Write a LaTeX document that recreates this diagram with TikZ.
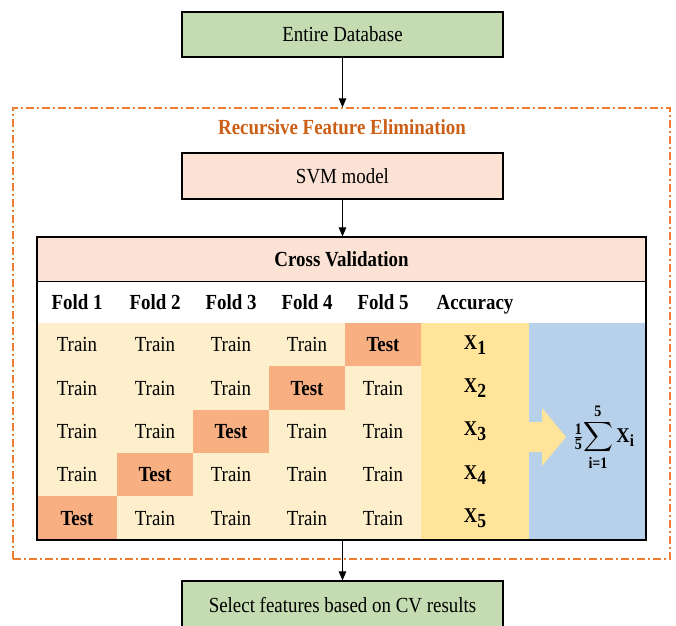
\documentclass[tikz,border=0pt]{standalone}
\usepackage{amsmath}
\usepackage{fontspec}
\setmainfont{Liberation Serif}[FakeStretch=0.88]
\usetikzlibrary{arrows.meta}
\definecolor{dbgreen}{RGB}{197,220,178}
\definecolor{pinkbox}{RGB}{252,226,212}
\definecolor{traincol}{RGB}{254,239,204}
\definecolor{testcol}{RGB}{248,176,130}
\definecolor{acccol}{RGB}{255,228,153}
\definecolor{bluecol}{RGB}{183,209,234}
\definecolor{rfeorange}{RGB}{237,125,49}
\definecolor{rfetitle}{RGB}{204,94,22}
\begin{document}
\begin{tikzpicture}[x=1pt,y=-1pt,
  mainfont/.style={font=\fontsize{21.5}{24}\selectfont},
  boldfont/.style={font=\fontsize{21.5}{24}\selectfont\bfseries},
  flowbox/.style={draw=black, line width=1.2pt, minimum width=321pt, minimum height=45pt, inner sep=0pt, mainfont},
  cell/.style={inner sep=0pt, minimum height=44pt, mainfont},
  traincell/.style={cell, fill=traincol},
  testcell/.style={cell, fill=testcol, boldfont},
  colhead/.style={boldfont, inner sep=0pt, text height=14pt, text depth=0pt},
  link/.style={line width=1pt, -{Triangle[length=9pt,width=7.5pt]}}]
\useasboundingbox (0,0) rectangle (676,625);
\clip (0,0) rectangle (676,625);

% top box
\node[flowbox, fill=dbgreen] (db) at (342.5,34.5) {Entire Database};

% RFE frame
\node[draw=rfeorange, line width=1.3pt, dash pattern=on 8pt off 3pt on 2pt off 3pt,
      minimum width=657pt, minimum height=451pt, inner sep=0pt] (rfe) at (341.5,333.5) {};
\node[boldfont, text=rfetitle] (rfelabel) at (342,127) {Recursive Feature Elimination};

% SVM
\node[flowbox, fill=pinkbox, minimum height=46pt] (svm) at (342.5,176) {SVM model};

% Cross validation header
\node[fill=pinkbox, minimum width=609pt, minimum height=44pt, inner sep=0pt, boldfont] (cvhead) at (341.5,259) {Cross Validation};

% column headers
\foreach \xx/\txt/\nm in {77/Fold 1/h1,155/Fold 2/h2,231/Fold 3/h3,307/Fold 4/h4,383/Fold 5/h5,475/Accuracy/h6}
  \node[colhead] (\nm) at (\xx,302) {\txt};

% fold cells
\foreach \r in {1,...,5} {
  \pgfmathsetmacro\yy{323+43.4*(\r-0.5)}
  \pgfmathtruncatemacro\tc{6-\r}
  \foreach \c/\xx/\ww in {1/77/80.5,2/155/76.5,3/231/76.5,4/307/76.5,5/383/76.5} {
    \ifnum\c=\tc
      \node[testcell, minimum width=\ww pt] (cell-\r-\c) at (\xx,\yy) {Test};
    \else
      \node[traincell, minimum width=\ww pt] (cell-\r-\c) at (\xx,\yy) {Train};
    \fi
  }
  \node[cell, fill=acccol, minimum width=108.5pt] (acc-\r) at (475,\yy)
    {\fontsize{21}{22}\selectfont\bfseries X\raisebox{-5pt}{\fontsize{20}{20}\selectfont\bfseries\r}};
}

% blue column
\node[fill=bluecol, minimum width=117pt, minimum height=217pt, inner sep=0pt] (avgcol) at (587.5,431.5) {};
% block arrow
\fill[acccol] (528.5,422) -- (542,422) -- (542,408) -- (566,437) -- (542,466) -- (542,452) -- (528.5,452) -- cycle;
% formula
\node[inner sep=0pt] (avg) at (604,437) {\fontsize{20}{22}\selectfont$\displaystyle
  {\textstyle\frac{\mbox{\fontsize{16}{16}\selectfont\bfseries 1}}{\mbox{\fontsize{16}{16}\selectfont\bfseries 5}}}
  \!\sum_{\mbox{\fontsize{16}{16}\selectfont\bfseries i=1}}^{\mbox{\fontsize{16}{16}\selectfont\bfseries 5}}
  \mbox{\fontsize{21}{22}\selectfont\bfseries X}_{\mbox{\fontsize{17}{17}\selectfont\bfseries i}}$};

% table border and header line
\node[draw=black, line width=1.2pt, minimum width=609pt, minimum height=303pt, inner sep=0pt] (cv) at (341.5,388.5) {};
\draw[line width=1.2pt] (cv.west |- cvhead.south) -- (cv.east |- cvhead.south);

% bottom box
\node[flowbox, fill=dbgreen, minimum height=48pt] (sel) at (342.5,605) {Select features based on CV results};

% connectors
\draw[link] (db.south) -- (rfe.north -| db.south);
\draw[link] (svm.south) -- (cv.north -| svm.south);
\draw[link] (cv.south -| sel.north) -- (sel.north);
\end{tikzpicture}
\end{document}
